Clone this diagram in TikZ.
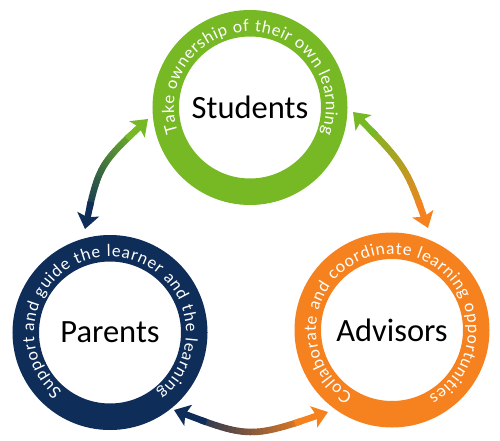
\documentclass[tikz,border=0pt]{standalone}
\usepackage{fontspec}
\newfontfamily\labelfont{Carlito}
\newfontfamily\ringfont{Lato}
\usetikzlibrary{calc,decorations.text,arrows.meta}
\definecolor{stgreen}{RGB}{118,185,36}
\definecolor{pablue}{RGB}{14,45,89}
\definecolor{adorange}{RGB}{246,130,31}
\tikzset{
    ring/.style={circle,draw=#1,line width=26.5pt,minimum size=168.5pt,inner sep=0pt,
        font=\labelfont\fontsize{32.5}{36}\selectfont},
    ringtext/.style={decorate,decoration={text along path,text align=fit to path,
        text={|\ringfont\fontsize{16.5}{20}\selectfont\color{white}|#1}}},
    tipline/.style={-{Stealth[length=15pt,width=22pt,inset=3pt]},line width=6.5pt}
}
\begin{document}
\begin{tikzpicture}[x=1pt,y=1pt]
    \useasboundingbox (0,0) rectangle (500,440);
    \node[ring=stgreen] (students) at (250,332.5) {Students};
    \node[ring=pablue] (parents) at (110,107.5) {Parents};
    \node[ring=adorange] (advisors) at (392,110) {Advisors};
    \path[ringtext={Take ownership of their own learning}]
        ($(students)+(199:76)$) arc[start angle=199,end angle=-20,radius=76];
    \path[ringtext={Support and guide the learner and the learning}]
        ($(parents)+(231:76)$) arc[start angle=231,end angle=-52,radius=76];
    \path[ringtext={Collaborate and coordinate learning opportunities}]
        ($(advisors)+(239:76)$) arc[start angle=239,end angle=-61,radius=76];
    % arrow ends and bends
    \coordinate (lt) at (148,321); \coordinate (lb) at (85,211); \coordinate (lc) at (98.5,275);
    \coordinate (rt) at (353,328); \coordinate (rb) at (428,212); \coordinate (rc) at (406,274);
    \coordinate (bl) at (174,30); \coordinate (br) at (328,28); \coordinate (bc) at (250,1);
    \foreach \s/\e/\m/\cs/\cf in {lt/lb/lc/stgreen/pablue,rt/rb/rc/stgreen/adorange,bl/br/bc/pablue/adorange}{
        \path (\s) .. controls (\m) .. (\e) foreach \i in {0,...,30}{coordinate[pos=\i/30] (\s\i)};
        \foreach \i [evaluate=\i as \j using int(\i+1),evaluate=\i as \pc using int(100-\i*10/3)] in {4,...,25}
            \draw[line width=6.5pt,line cap=round,\cs!\pc!\cf] (\s\i)--(\s\j);
        \draw[tipline,\cs] (\s5)--(\s0);
        \draw[tipline,\cf] (\s25)--(\s30);
    }
\end{tikzpicture}
\end{document}
